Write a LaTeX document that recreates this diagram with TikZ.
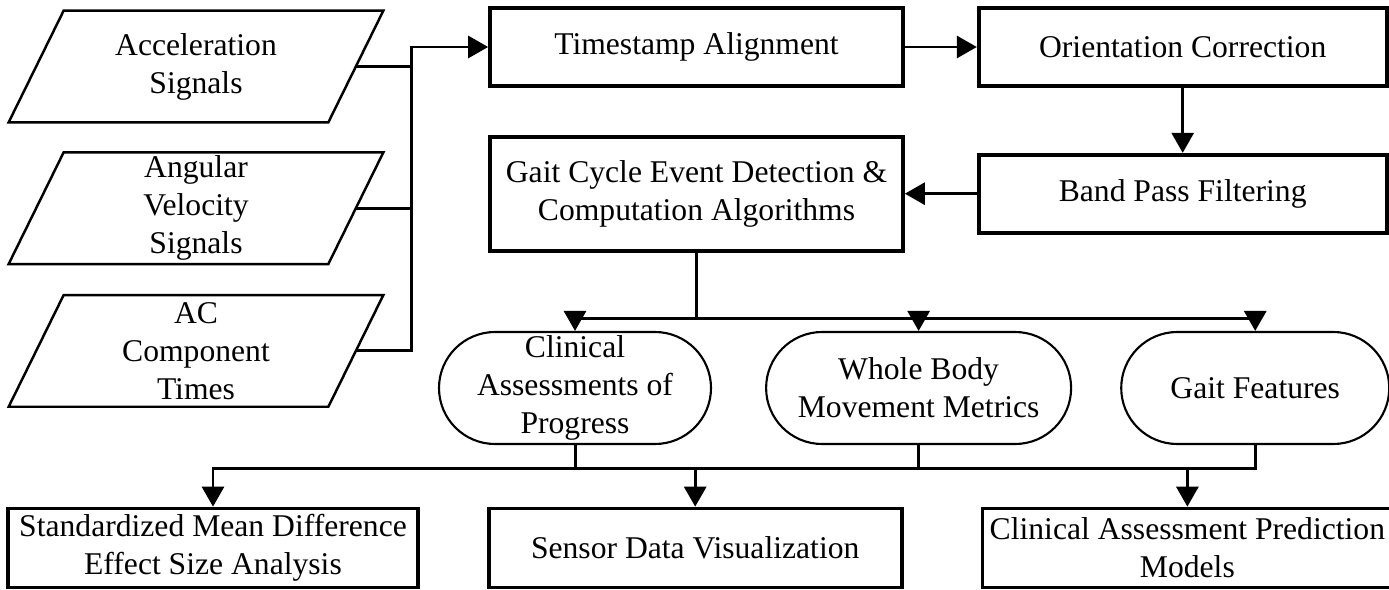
\documentclass[tikz,border=0pt]{standalone}
\usepackage{fontspec}
\setmainfont{Liberation Serif}
\usetikzlibrary{positioning,arrows.meta,calc}

\begin{document}
\begin{tikzpicture}[
    node distance=0.6cm,
    proc/.style={rectangle, draw, line width=2.1pt, inner sep=0pt,
        minimum width=8.26cm, minimum height=1.56cm, font=\fontsize{18}{21.6}\selectfont, align=center},
    % slanted outline drawn round a plain body, so .east sits mid-way on the slanted side
    datain/.style={rectangle, inner sep=0pt, minimum width=6.38cm, minimum height=2.22cm,
        font=\fontsize{18}{21.6}\selectfont, align=center,
        append after command={\pgfextra{\draw[line width=1.4pt]
            ($(\tikzlastnode.south west)+(-0.55,0)$) -- ($(\tikzlastnode.south east)+(-0.55,0)$)
            -- ($(\tikzlastnode.north east)+(0.55,0)$) -- ($(\tikzlastnode.north west)+(0.55,0)$) -- cycle;}}},
    outcome/.style={rectangle, rounded corners=1.12cm, draw, line width=1.2pt, inner sep=0pt,
        minimum height=2.24cm, font=\fontsize{18}{21.6}\selectfont, align=center},
    link/.style={line width=1.7pt},
    flow/.style={link, -{Triangle[length=0.4cm, width=0.44cm]}}
]
\useasboundingbox (0,0) rectangle (27.78,-11.78);

% sensor inputs
\node[datain] (acc) at (3.92,-1.33) {Acceleration\\Signals};
\node[datain, below=0.6cm of acc] (ang) {Angular\\Velocity\\Signals};
\node[datain, below=0.62cm of ang] (acm) {AC\\Component\\Times};

% preprocessing chain
\node[proc] (ts) at (13.93,-0.94) {Timestamp Alignment};
\node[proc, minimum width=8.16cm, right=1.44cm of ts] (oc) {Orientation Correction};
\node[proc, minimum width=8.16cm, below=1.3cm of oc] (bp) {Band Pass Filtering};
\node[proc, minimum height=2.28cm, left=1.44cm of bp] (gc) {Gait Cycle Event Detection \&\\Computation Algorithms};

% derived measures
\node[outcome, minimum width=5.44cm] (cap) at (11.5,-7.76) {Clinical\\Assessments of\\Progress};
\node[outcome, minimum width=6.1cm, right=1.06cm of cap] (wbm) {Whole Body\\Movement Metrics};
\node[outcome, minimum width=5.36cm, right=0.96cm of wbm] (gf) {Gait Features};

% analyses
\node[proc, minimum width=8.2cm, minimum height=1.58cm] (smd) at (4.26,-10.96) {Standardized Mean Difference\\Effect Size Analysis};
\node[proc, minimum height=1.58cm, right=1.34cm of smd] (sdv) {Sensor Data Visualization};
\node[proc, minimum width=8.2cm, minimum height=1.58cm, right=1.54cm of sdv] (cpm) {Clinical Assessment Prediction\\Models};

% junction points
\coordinate (jin) at ($(ts.west)+(-1.54,0)$);
\coordinate (jtop) at ($(gc.south)+(0,-1.32)$);
\coordinate (jbot) at ($(cap.south)+(0,-0.46)$);

\draw[link] (acc.east) -| (jin);
\draw[link] (ang.east) -| (jin);
\draw[flow] (acm.east) -| (jin) -- (ts.west);

\draw[flow] (ts.east) -- (oc.west);
\draw[flow] (oc.south) -- (bp.north);
\draw[flow] (bp.west) -- (gc.east);

\draw[flow] (gc.south) -- (jtop) -| (cap.north);
\draw[flow] (jtop) -| (gf.north);
\draw[flow] (wbm.north |- jtop) -- (wbm.north);

\draw[link] (cap.south) -- (jbot);
\draw[link] (wbm.south) -- (wbm.south |- jbot);
\draw[flow] (gf.south) |- (jbot) -| (smd.north);
\draw[flow] (sdv.north |- jbot) -- (sdv.north);
\draw[flow] (cpm.north |- jbot) -- (cpm.north);
\end{tikzpicture}
\end{document}
